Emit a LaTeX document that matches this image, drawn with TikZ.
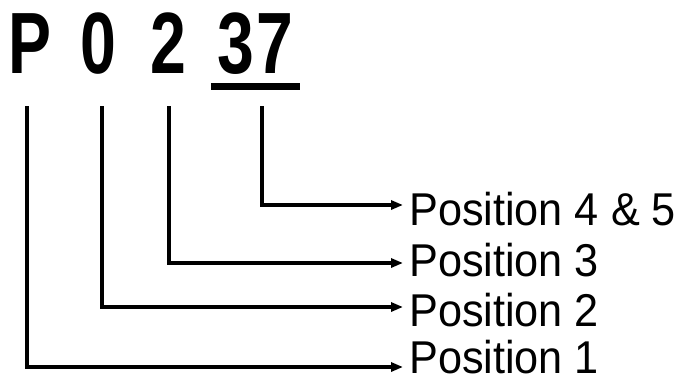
\documentclass[tikz,border=0pt]{standalone}
\usepackage{fontspec}
\setmainfont{Liberation Sans}
\usetikzlibrary{arrows.meta}
\begin{document}
\begin{tikzpicture}[x=1pt,y=-1pt,
  big/.style={font=\fontsize{87}{87}\selectfont\bfseries, inner sep=0pt, anchor=base},
  lbl/.style={font=\fontsize{46}{46}\selectfont, inner sep=0pt, anchor=base west},
  conn/.style={line width=3.6pt, -{Triangle[length=12pt,width=9pt]}}]
\useasboundingbox (0,0) rectangle (681,383);
\node[big] (cP) at (30,73) {\scalebox{0.74}[1]{P}};
\node[big] (c0) at (98,73) {\scalebox{0.74}[1]{0}};
\node[big] (c2) at (168,73) {\scalebox{0.74}[1]{2}};
\node[big] (c37) at (255,73) {\scalebox{0.76}[1]{3\kern3pt7}};
\draw[line width=7pt] ([xshift=-6pt,yshift=-13pt]c37.base west) -- ([xshift=7pt,yshift=-13pt]c37.base east);
\node[lbl] (p45) at (409,225) {\scalebox{0.94}[1]{Position 4 \& 5}};
\node[lbl] (p3) at (409,276) {\scalebox{0.94}[1]{Position 3}};
\node[lbl] (p2) at (409,326) {\scalebox{0.94}[1]{Position 2}};
\node[lbl] (p1) at (409,373) {\scalebox{0.94}[1]{Position 1}};
\draw[conn] ([xshift=7pt,yshift=-33pt]c37.base) |- ([xshift=-6pt,yshift=20pt]p45.base west);
\draw[conn] ([xshift=1pt,yshift=-33pt]c2.base) |- ([xshift=-6pt,yshift=13pt]p3.base west);
\draw[conn] ([xshift=4pt,yshift=-33pt]c0.base) |- ([xshift=-6pt,yshift=19pt]p2.base west);
\draw[conn] ([xshift=-3pt,yshift=-33pt]cP.base) |- ([xshift=-6pt,yshift=6pt]p1.base west);
\end{tikzpicture}
\end{document}
